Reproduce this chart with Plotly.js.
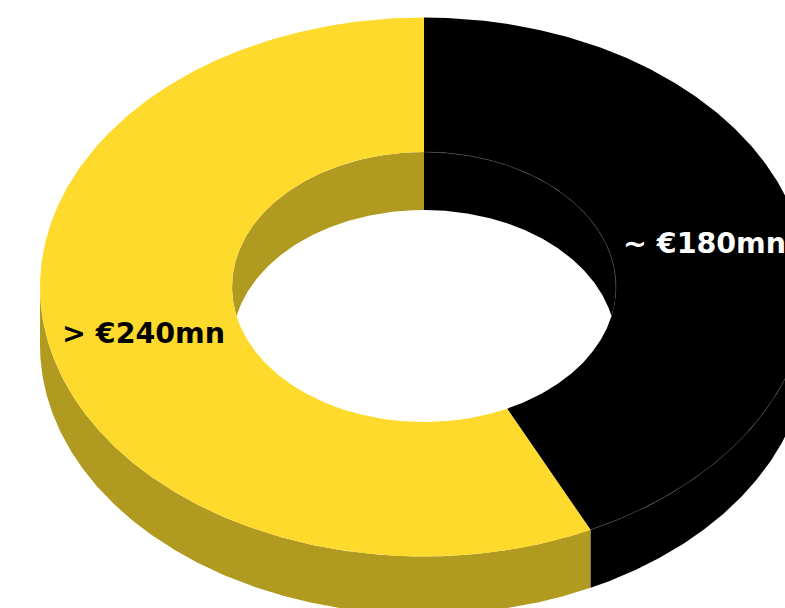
<!DOCTYPE html>
<html>
<head>
<meta charset="utf-8">
<script src="https://cdn.plot.ly/plotly-3.0.1.min.js"></script>
<style>html,body{margin:0;padding:0;background:#fff;overflow:hidden}#chart{width:785px;height:608px}</style>
</head>
<body>
<div id="chart"></div>
<script>
// Data
const categories = ["> €240mn", "~ €180mn"];
const values = [240, 180];
const topColors = ["#FDDA2C", "#000000"];
const wallColors = ["#B09A20", "#000000"];
const labelColors = ["#000000", "#FFFFFF"];
const labelPositions = [[143.5, 333], [704.5, 243]];

// Drawing geometry of the tilted ring
const cx = 424, cy = 287, outerRx = 384, outerRy = 269.5, innerRx = 192, innerRy = 135, depth = 58;
const edgeColor = "#4a4a4a";

const total = values.reduce((a, b) => a + b, 0);
const rad = d => d * Math.PI / 180;
function arc(rx, ry, a, b, dy) {
  const n = Math.max(2, Math.ceil(Math.abs(b - a) * 2));
  const xs = [], ys = [];
  for (let i = 0; i <= n; i++) {
    const t = rad(a + (b - a) * i / n);
    xs.push(cx - rx * Math.sin(t));
    ys.push(cy - ry * Math.cos(t) + dy);
  }
  return [xs, ys];
}
function poly(parts, color) {
  const x = [], y = [];
  parts.forEach(p => { x.push(...p[0]); y.push(...p[1]); });
  x.push(x[0]); y.push(y[0]);
  return {type: "scatter", mode: "lines", x, y, fill: "toself", fillcolor: color,
          line: {width: 0, color}, hoverinfo: "skip", showlegend: false};
}
function edge(a, color) {
  return {type: "scatter", mode: "lines", x: a[0], y: a[1], line: {width: 0.6, color},
          hoverinfo: "skip", showlegend: false};
}

const back = depth / (2 * innerRy);
const wallInner = Math.acos(-back) * 180 / Math.PI;
const wallShift = Math.acos(back) * 180 / Math.PI;

const spans = [];
let start = 0;
values.forEach(v => { spans.push([start, start + v / total * 360]); start += v / total * 360; });

const traces = [];
// outer side wall (front half)
spans.forEach((s, i) => {
  const a = Math.max(s[0], 90), b = Math.min(s[1], 270);
  if (b > a) traces.push(poly([arc(outerRx, outerRy, a, b, 0), arc(outerRx, outerRy, b, a, depth)], wallColors[i]));
});
// inner wall (back of the hole)
spans.forEach((s, i) => {
  if (s[0] < wallInner) {
    const b = Math.min(s[1], wallInner);
    traces.push(poly([arc(innerRx, innerRy, s[0], b, 0), arc(innerRx, innerRy, wallShift, s[0], depth)], wallColors[i]));
  }
  if (s[1] > 360 - wallInner) {
    const a = Math.max(s[0], 360 - wallInner);
    traces.push(poly([arc(innerRx, innerRy, a, s[1], 0), arc(innerRx, innerRy, s[1], 360 - wallShift, depth)], wallColors[i]));
  }
});
// top faces
spans.forEach((s, i) => {
  traces.push(poly([arc(outerRx, outerRy, s[0], s[1], 0), arc(innerRx, innerRy, s[1], s[0], 0)], topColors[i]));
});
// hairlines on the black slice
const lastSpan = spans[spans.length - 1];
traces.push(edge(arc(outerRx, outerRy, lastSpan[0], 270, 0), edgeColor));
traces.push(edge(arc(innerRx, innerRy, 360 - wallInner + 8, 360, 0), edgeColor));

const layout = {
  width: 785, height: 608,
  margin: {l: 0, r: 0, t: 0, b: 0},
  paper_bgcolor: "#FFFFFF", plot_bgcolor: "#FFFFFF",
  showlegend: false,
  xaxis: {range: [0, 785], visible: false, fixedrange: true},
  yaxis: {range: [608, 0], visible: false, fixedrange: true},
  annotations: categories.map((c, i) => ({
    text: "<b>" + c + "</b>", x: labelPositions[i][0], y: labelPositions[i][1], xref: "x", yref: "y",
    showarrow: false, xanchor: "center", yanchor: "middle",
    font: {family: "DejaVu Sans", size: 28.5, color: labelColors[i]}
  }))
};
Plotly.newPlot("chart", traces, layout, {displayModeBar: false, responsive: false});
</script>
</body>
</html>
